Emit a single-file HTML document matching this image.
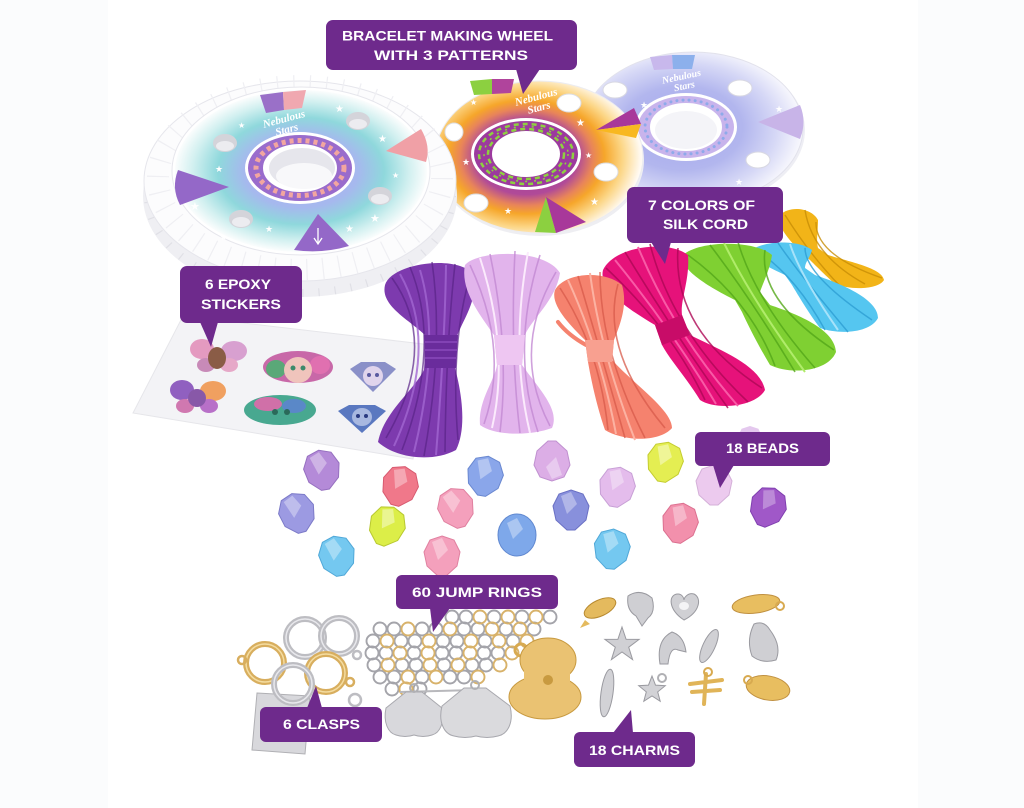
<!DOCTYPE html>
<html><head><meta charset="utf-8">
<style>
html,body{margin:0;padding:0;background:#fff;}
svg{display:block;}
.lb{font-family:"Liberation Sans",sans-serif;font-weight:bold;font-size:14px;fill:#fff;}
.st{font-family:"DejaVu Sans",sans-serif;fill:#fff;}
.logo{font-family:"Liberation Serif",serif;font-style:italic;font-weight:bold;fill:#fff;}
</style></head><body>
<svg width="1024" height="808" viewBox="0 0 1024 808" xmlns="http://www.w3.org/2000/svg">
<defs>
<radialGradient id="gL" cx="0.5" cy="0.5" r="0.5">
<stop offset="0" stop-color="#a8aef0"/><stop offset="0.45" stop-color="#a6b8ee"/><stop offset="0.66" stop-color="#8fd8dc"/><stop offset="0.86" stop-color="#d2f0f0"/><stop offset="1" stop-color="#fbfdfd"/>
</radialGradient>
<radialGradient id="gM" cx="0.44" cy="0.5" r="0.55">
<stop offset="0" stop-color="#9a3aa0"/><stop offset="0.45" stop-color="#b04a98"/><stop offset="0.58" stop-color="#e8845a"/><stop offset="0.68" stop-color="#f6a62a"/><stop offset="0.84" stop-color="#fcd686"/><stop offset="1" stop-color="#fffaf2"/>
</radialGradient>
<radialGradient id="gR" cx="0.45" cy="0.5" r="0.55">
<stop offset="0" stop-color="#a6a8ea"/><stop offset="0.5" stop-color="#b2b6ee"/><stop offset="0.78" stop-color="#d6d8f6"/><stop offset="1" stop-color="#f8f8fd"/>
</radialGradient>
</defs>
<rect width="1024" height="808" fill="#fbfcfd"/>
<rect x="108" y="0" width="810" height="808" fill="#ffffff"/>

<!-- RIGHT WHEEL -->
<ellipse cx="694" cy="130" rx="111" ry="77" fill="#eeeef4"/>
<ellipse cx="693" cy="128" rx="110" ry="76" fill="url(#gR)" stroke="#e2e2ec"/>
<polygon points="650,57 672,55 673,69 654,70" fill="#c8b8ec"/>
<polygon points="672,55 695,55 692,69 673,69" fill="#8cb0ec"/>
<path d="M758,122 L800,105 Q807,122 800,139 Z" fill="#c8b4e8"/>
<ellipse cx="615" cy="90" rx="12" ry="8" fill="#fff" stroke="#d8d8e2"/>
<ellipse cx="740" cy="88" rx="12" ry="8" fill="#fff" stroke="#d8d8e2"/>
<ellipse cx="758" cy="160" rx="12" ry="8" fill="#fff" stroke="#d8d8e2"/>
<ellipse cx="686" cy="127" rx="51" ry="34" fill="#fff"/>
<ellipse cx="686" cy="127" rx="48" ry="31" fill="#c8b4ec"/>
<ellipse cx="686" cy="127" rx="41" ry="27" fill="none" stroke="#8eaaea" stroke-width="3" stroke-linecap="round" stroke-dasharray="0.1 6"/>
<ellipse cx="686" cy="127" rx="35" ry="23" fill="#fff" stroke="#fff" stroke-width="2"/>
<ellipse cx="686" cy="130" rx="31" ry="19" fill="#f4f4f8"/>
<text class="logo" x="662" y="80" font-size="10" transform="rotate(-12 680 78)">Nebulous</text>
<text class="logo" x="672" y="90" font-size="10" transform="rotate(-12 680 78)">Stars</text>
<text class="st" x="640" y="108" font-size="9">★</text><text class="st" x="775" y="112" font-size="9">★</text>
<text class="st" x="735" y="185" font-size="9">★</text><text class="st" x="620" y="150" font-size="8">★</text>

<!-- MIDDLE WHEEL -->
<ellipse cx="540" cy="160" rx="104" ry="76" fill="#eeeef2"/>
<ellipse cx="539" cy="157" rx="104" ry="76" fill="url(#gM)" stroke="#ececf0"/>
<polygon points="470,81 492,79 492,94 474,95" fill="#8cd040"/>
<polygon points="492,79 514,79 511,93 492,94" fill="#b0449c"/>
<polygon points="596,130 634,108 641,124" fill="#a8389a"/>
<polygon points="596,130 641,124 636,138" fill="#f8b820"/>
<polygon points="546,197 535,232 556,233" fill="#8cd040"/>
<polygon points="546,197 556,233 586,222" fill="#a8389a"/>
<ellipse cx="569" cy="103" rx="12" ry="9" fill="#fff" stroke="#dcdce0"/>
<ellipse cx="606" cy="172" rx="12" ry="9" fill="#fff" stroke="#dcdce0"/>
<ellipse cx="476" cy="203" rx="12" ry="9" fill="#fff" stroke="#dcdce0"/>
<ellipse cx="454" cy="132" rx="9" ry="9" fill="#fff" stroke="#dcdce0"/>
<ellipse cx="526" cy="154" rx="55" ry="36" fill="#fff"/>
<ellipse cx="526" cy="154" rx="52" ry="33" fill="#9c3a9e"/>
<ellipse cx="526" cy="154" rx="47" ry="30" fill="none" stroke="#8ed040" stroke-width="2.5" stroke-dasharray="5 4"/>
<ellipse cx="526" cy="154" rx="38" ry="25" fill="none" stroke="#8ed040" stroke-width="2.5" stroke-dasharray="5 4"/>
<ellipse cx="526" cy="154" rx="42" ry="27.5" fill="none" stroke="#8ed040" stroke-width="1.5" stroke-dasharray="2 7"/>
<ellipse cx="526" cy="154" rx="33" ry="22" fill="#fff" stroke="#fff" stroke-width="2"/>
<text class="logo" x="515" y="102" font-size="11" transform="rotate(-15 530 100)">Nebulous</text>
<text class="logo" x="525" y="113" font-size="11" transform="rotate(-15 530 100)">Stars</text>
<text class="st" x="576" y="126" font-size="10">★</text><text class="st" x="462" y="165" font-size="9">★</text>
<text class="st" x="585" y="158" font-size="8">★</text><text class="st" x="504" y="214" font-size="9">★</text>
<text class="st" x="590" y="205" font-size="10">★</text><text class="st" x="470" y="105" font-size="8">★</text>

<!-- LEFT WHEEL (foam) -->
<ellipse cx="300" cy="196" rx="157" ry="101" fill="#efeff3"/>
<ellipse cx="300" cy="196" rx="152" ry="97" fill="none" stroke="#e0e0e6" stroke-width="8" stroke-dasharray="1.2 15"/>
<ellipse cx="300" cy="181" rx="156" ry="100" fill="#fcfcfd" stroke="#e6e6ec" stroke-width="1"/>
<ellipse cx="300" cy="178" rx="142" ry="92" fill="none" stroke="#efeff3" stroke-width="22" stroke-dasharray="1.2 15"/>
<ellipse cx="301" cy="171" rx="129" ry="84" fill="#fff" stroke="#e6e6ec"/>
<ellipse cx="301" cy="171" rx="126" ry="81" fill="url(#gL)"/>
<polygon points="260,95 283,92 284,110 266,113" fill="#9a70c8"/>
<polygon points="283,92 306,90 302,108 284,110" fill="#f0a8b0"/>
<path d="M386,151 L421,129 Q431,146 426,162 Z" fill="#f0a0a6"/>
<path d="M229,187 L178,170 Q171,188 180,205 Z" fill="#9468c8"/>
<path d="M318,214 L294,250 Q322,254 349,246 Z" fill="#9468c8"/>
<path d="M318,228 L318,243 M314,238 L318,244 L322,238" stroke="#fff" stroke-width="1.3" fill="none"/>
<ellipse cx="225" cy="143" rx="12" ry="9" fill="#d4d4da"/><ellipse cx="225" cy="146" rx="9" ry="5" fill="#ececf0"/>
<ellipse cx="358" cy="121" rx="12" ry="9" fill="#d4d4da"/><ellipse cx="358" cy="124" rx="9" ry="5" fill="#ececf0"/>
<ellipse cx="380" cy="196" rx="12" ry="9" fill="#d4d4da"/><ellipse cx="380" cy="199" rx="9" ry="5" fill="#ececf0"/>
<ellipse cx="241" cy="219" rx="12" ry="9" fill="#d4d4da"/><ellipse cx="241" cy="222" rx="9" ry="5" fill="#ececf0"/>
<ellipse cx="300" cy="168" rx="55" ry="36" fill="#fff"/>
<ellipse cx="300" cy="168" rx="52" ry="33" fill="#9a6ccc"/>
<ellipse cx="300" cy="168" rx="44" ry="27.5" fill="none" stroke="#f2a6a0" stroke-width="5" stroke-dasharray="4 4"/>
<ellipse cx="300" cy="168" rx="36" ry="23" fill="#fff" stroke="#fff" stroke-width="2"/>
<ellipse cx="302" cy="168" rx="33" ry="20" fill="#e6e6ec"/>
<ellipse cx="304" cy="176" rx="28" ry="13" fill="#f8f8fa"/>
<text class="logo" x="262" y="122" font-size="11" transform="rotate(-15 285 118)">Nebulous</text>
<text class="logo" x="272" y="133" font-size="11" transform="rotate(-15 285 118)">Stars</text>
<text class="st" x="335" y="112" font-size="10">★</text><text class="st" x="378" y="142" font-size="10">★</text>
<text class="st" x="215" y="172" font-size="9">★</text><text class="st" x="392" y="178" font-size="8">★</text>
<text class="st" x="265" y="232" font-size="9">★</text><text class="st" x="345" y="232" font-size="10">★</text>
<text class="st" x="190" y="210" font-size="11">★</text><text class="st" x="370" y="222" font-size="11">★</text>
<text class="st" x="238" y="128" font-size="8">★</text><text class="st" x="220" y="240" font-size="8">★</text>

<!-- STICKER SHEET -->
<polygon points="183,316 432,345 413,459 133,413" fill="#f3f3f6" stroke="#e6e6ea"/>
<g transform="translate(217,356)">
<ellipse cx="-15" cy="-7" rx="12" ry="10" fill="#e49ac0"/><ellipse cx="17" cy="-5" rx="13" ry="10" fill="#d8a0d0"/>
<ellipse cx="-11" cy="9" rx="9" ry="7" fill="#c88ab8"/><ellipse cx="12" cy="9" rx="9" ry="7" fill="#e6a8c8"/>
<ellipse cx="0" cy="2" rx="9" ry="11" fill="#8a5c46"/></g>
<g transform="translate(298,367)">
<ellipse cx="0" cy="0" rx="35" ry="16" fill="#c868a8"/><ellipse cx="-22" cy="2" rx="10" ry="9" fill="#5aa878"/>
<ellipse cx="22" cy="-2" rx="10" ry="9" fill="#e070b0"/><ellipse cx="0" cy="3" rx="14" ry="13" fill="#f0c4bc"/>
<circle cx="-5" cy="1" r="2.5" fill="#3c8a6a"/><circle cx="5" cy="1" r="2.5" fill="#3c8a6a"/></g>
<g transform="translate(373,377)">
<polygon points="-23,-8 -12,-15 12,-15 23,-8 0,15" fill="#8a90c8"/><ellipse cx="0" cy="-1" rx="10" ry="10" fill="#e0d4ec"/>
<circle cx="-4" cy="-2" r="2" fill="#5a5aa0"/><circle cx="4" cy="-2" r="2" fill="#5a5aa0"/></g>
<g transform="translate(197,397)">
<ellipse cx="-15" cy="-7" rx="12" ry="10" fill="#9060c0"/><ellipse cx="16" cy="-6" rx="13" ry="10" fill="#f0a060"/>
<ellipse cx="-12" cy="9" rx="9" ry="7" fill="#d078b0"/><ellipse cx="12" cy="9" rx="9" ry="7" fill="#b870c8"/>
<ellipse cx="0" cy="1" rx="9" ry="9" fill="#8858a8"/></g>
<g transform="translate(280,410)">
<ellipse cx="0" cy="0" rx="36" ry="15" fill="#48a890"/><ellipse cx="-12" cy="-6" rx="14" ry="7" fill="#d070a8"/>
<ellipse cx="14" cy="-4" rx="12" ry="7" fill="#5a88c8"/><circle cx="-5" cy="2" r="3" fill="#2a6a5a"/><circle cx="7" cy="2" r="3" fill="#2a6a5a"/></g>
<g transform="translate(362,418)">
<polygon points="-24,-7 -13,-13 13,-13 24,-7 0,15" fill="#5a78c0"/><ellipse cx="0" cy="-1" rx="10" ry="9" fill="#a8b8e0"/>
<circle cx="-4" cy="-2" r="2" fill="#2a3a80"/><circle cx="4" cy="-2" r="2" fill="#2a3a80"/></g>

<!-- CORDS -->
<g>
<path d="M385,285 C392,262 462,254 474,276 C478,300 463,320 457,336 L455,368 C463,398 466,430 456,450 C432,463 395,458 378,442 C384,412 414,390 424,370 L426,336 C410,320 380,306 385,285 Z" fill="#7d3aae"/>
<g fill="none" stroke="#5a2488" stroke-width="1.6" opacity="0.7">
<path d="M392,278 Q440,345 386,438"/><path d="M410,267 Q442,345 402,450"/><path d="M432,262 Q444,345 424,456"/><path d="M455,264 Q446,345 445,452"/><path d="M470,276 Q450,345 458,440"/></g>
<g fill="none" stroke="#a266d2" stroke-width="2" opacity="0.8"><path d="M420,270 Q441,340 414,452"/><path d="M446,265 Q445,340 436,455"/><path d="M400,274 Q440,345 394,446"/></g>
<path d="M424,335 L458,335 L456,368 L425,368 Z" fill="#6a2c9c"/>
<g stroke="#8a4abc" stroke-width="1.5"><path d="M425,342 L457,342 M425,350 L457,350 M425,358 L456,358"/></g>
</g>
<g>
<path d="M465,265 C478,250 545,248 560,273 C556,300 531,320 525,335 L522,365 C540,390 560,410 552,428 C530,436 495,436 480,425 C478,400 495,380 497,365 L494,335 C480,315 460,290 465,265 Z" fill="#e2b4ec"/>
<g fill="none" stroke="#c48ad4" stroke-width="1.6" opacity="0.8">
<path d="M470,265 Q510,350 484,424"/><path d="M490,254 Q510,350 500,432"/><path d="M515,251 Q510,350 520,433"/><path d="M540,255 Q510,350 538,432"/><path d="M556,272 Q510,350 550,426"/></g>
<g fill="none" stroke="#fbeafc" stroke-width="2"><path d="M480,258 Q510,350 492,428"/><path d="M528,252 Q510,350 530,433"/></g>
<path d="M494,335 L525,335 L522,365 L497,365 Z" fill="#eec6f2"/>
</g>
<g>
<path d="M780,215 C790,205 812,208 818,220 C818,232 816,240 818,248 L828,255 C850,262 882,268 884,280 C878,290 850,290 835,284 C825,275 815,265 810,260 L800,252 C790,240 775,225 780,215 Z" fill="#f2b418"/>
<g fill="none" stroke="#c88e06" stroke-width="1.4" opacity="0.8"><path d="M785,215 Q810,255 840,286"/><path d="M805,210 Q812,255 865,284"/><path d="M816,222 Q815,255 882,278"/></g>
</g>
<g>
<path d="M752,250 C765,240 800,240 812,250 C810,258 805,262 805,268 L815,275 C845,285 878,300 878,318 C870,333 840,335 820,328 C808,312 798,295 792,285 L785,275 C770,268 748,258 752,250 Z" fill="#55c6f0"/>
<g fill="none" stroke="#2e9fd4" stroke-width="1.5" opacity="0.8"><path d="M756,250 Q795,275 825,330"/><path d="M778,243 Q800,275 848,332"/><path d="M805,248 Q805,275 872,320"/></g>
<g fill="none" stroke="#a6e2fa" stroke-width="2"><path d="M790,244 Q800,275 838,330"/></g>
</g>
<g>
<path d="M683,255 C700,240 755,240 772,255 C770,270 762,285 760,292 L770,305 C800,315 835,330 836,352 C828,372 790,375 770,365 C758,345 748,325 742,312 L735,300 C715,290 678,270 683,255 Z" fill="#7fd032"/>
<g fill="none" stroke="#54a81a" stroke-width="1.6" opacity="0.8"><path d="M688,255 Q750,300 775,366"/><path d="M710,245 Q752,300 795,372"/><path d="M738,242 Q755,300 815,368"/><path d="M765,250 Q758,300 834,350"/></g>
<g fill="none" stroke="#b0ec6a" stroke-width="2"><path d="M724,243 Q752,300 805,372"/></g>
</g>
<g>
<path d="M603,270 C615,245 670,240 688,255 C690,280 680,300 682,315 L690,335 C720,350 760,365 765,390 C755,408 715,410 700,400 C688,380 670,360 662,345 L655,325 C630,310 598,290 603,270 Z" fill="#e6127a"/>
<g fill="none" stroke="#ae0856" stroke-width="1.6" opacity="0.8"><path d="M606,268 Q672,330 705,400"/><path d="M625,252 Q672,330 728,408"/><path d="M650,244 Q672,330 748,402"/><path d="M678,248 Q672,330 762,388"/></g>
<g fill="none" stroke="#f85aa6" stroke-width="2"><path d="M638,247 Q672,330 738,406"/><path d="M615,260 Q672,330 716,404"/></g>
<path d="M655,325 L682,315 L690,335 L662,345 Z" fill="#c80c68"/>
</g>
<g>
<path d="M555,290 C565,272 605,270 622,285 C628,305 620,325 614,340 L612,360 C635,385 672,410 672,428 C660,442 625,442 605,430 C598,410 592,385 588,362 L585,340 C570,325 550,305 555,290 Z" fill="#f5826e"/>
<path d="M586,345 Q568,335 558,322" stroke="#f5826e" stroke-width="4" fill="none" stroke-linecap="round"/>
<g fill="none" stroke="#d85a4a" stroke-width="1.6" opacity="0.75"><path d="M560,288 Q600,350 608,430"/><path d="M578,276 Q600,350 625,438"/><path d="M600,272 Q600,350 645,438"/><path d="M618,284 Q600,350 665,428"/></g>
<g fill="none" stroke="#fcb2a2" stroke-width="2"><path d="M590,273 Q600,350 635,440"/><path d="M568,280 Q600,350 616,434"/></g>
<path d="M585,340 L614,340 L612,362 L588,362 Z" fill="#f8a090"/>
</g>

<!-- BEADS -->
<g stroke-width="1">
<g transform="translate(322,470) rotate(-10)"><path d="M0,-20 L12,-16 L18,-4 L15,10 L4,20 L-4,20 L-15,10 L-18,-4 L-12,-16 Z" fill="#b48ad8" stroke="#9670c0"/><path d="M-10,-14 L0,-18 L6,-6 L-4,4 Z" fill="#fff" opacity="0.35"/></g>
<g transform="translate(400,486) rotate(15)"><path d="M0,-20 L12,-16 L18,-4 L15,10 L4,20 L-4,20 L-15,10 L-18,-4 L-12,-16 Z" fill="#f0788a" stroke="#d85a70"/><path d="M-10,-14 L0,-18 L6,-6 L-4,4 Z" fill="#fff" opacity="0.35"/></g>
<g transform="translate(485,476) rotate(10)"><path d="M0,-20 L12,-16 L18,-4 L15,10 L4,20 L-4,20 L-15,10 L-18,-4 L-12,-16 Z" fill="#8aa6ea" stroke="#6a88d0"/><path d="M-10,-14 L0,-18 L6,-6 L-4,4 Z" fill="#fff" opacity="0.35"/></g>
<g transform="translate(552,461) rotate(180)"><path d="M0,-20 L12,-16 L18,-4 L15,10 L4,20 L-4,20 L-15,10 L-18,-4 L-12,-16 Z" fill="#dcaee6" stroke="#c090d0"/><path d="M-10,-14 L0,-18 L6,-6 L-4,4 Z" fill="#fff" opacity="0.35"/></g>
<g transform="translate(665,462) rotate(10)"><path d="M0,-20 L12,-16 L18,-4 L15,10 L4,20 L-4,20 L-15,10 L-18,-4 L-12,-16 Z" fill="#e4ee52" stroke="#c4cc30"/><path d="M-10,-14 L0,-18 L6,-6 L-4,4 Z" fill="#fff" opacity="0.4"/></g>
<g transform="translate(617,487) rotate(10)"><path d="M0,-20 L12,-16 L18,-4 L15,10 L4,20 L-4,20 L-15,10 L-18,-4 L-12,-16 Z" fill="#e4bcec" stroke="#c8a0d6"/><path d="M-10,-14 L0,-18 L6,-6 L-4,4 Z" fill="#fff" opacity="0.35"/></g>
<g transform="translate(714,485)"><path d="M0,-20 L12,-16 L18,-4 L15,10 L4,20 L-4,20 L-15,10 L-18,-4 L-12,-16 Z" fill="#eccaee" stroke="#d4b0d8"/></g>
<g transform="translate(768,507) rotate(20)"><path d="M0,-20 L12,-16 L18,-4 L15,10 L4,20 L-4,20 L-15,10 L-18,-4 L-12,-16 Z" fill="#a058c8" stroke="#8040b0"/><path d="M-10,-14 L0,-18 L6,-6 L-4,4 Z" fill="#fff" opacity="0.3"/></g>
<g transform="translate(750,440) scale(0.7)"><path d="M0,-20 L12,-16 L18,-4 L15,10 L4,20 L-4,20 L-15,10 L-18,-4 L-12,-16 Z" fill="#e4c8ee"/></g>
<g transform="translate(297,513) rotate(-15)"><path d="M0,-20 L12,-16 L18,-4 L15,10 L4,20 L-4,20 L-15,10 L-18,-4 L-12,-16 Z" fill="#9c9ae2" stroke="#7c7ac8"/><path d="M-10,-14 L0,-18 L6,-6 L-4,4 Z" fill="#fff" opacity="0.35"/></g>
<g transform="translate(456,508) rotate(-15)"><path d="M0,-20 L12,-16 L18,-4 L15,10 L4,20 L-4,20 L-15,10 L-18,-4 L-12,-16 Z" fill="#f4a0bc" stroke="#e080a0"/><path d="M-10,-14 L0,-18 L6,-6 L-4,4 Z" fill="#fff" opacity="0.35"/></g>
<g transform="translate(571,510)"><path d="M0,-20 L12,-16 L18,-4 L15,10 L4,20 L-4,20 L-15,10 L-18,-4 L-12,-16 Z" fill="#8890dc" stroke="#6a70c4"/><path d="M-10,-14 L0,-18 L6,-6 L-4,4 Z" fill="#fff" opacity="0.35"/></g>
<g transform="translate(680,523) rotate(10)"><path d="M0,-20 L12,-16 L18,-4 L15,10 L4,20 L-4,20 L-15,10 L-18,-4 L-12,-16 Z" fill="#f290ac" stroke="#dc7090"/><path d="M-10,-14 L0,-18 L6,-6 L-4,4 Z" fill="#fff" opacity="0.35"/></g>
<g transform="translate(387,526) rotate(20)"><path d="M0,-20 L12,-16 L18,-4 L15,10 L4,20 L-4,20 L-15,10 L-18,-4 L-12,-16 Z" fill="#dcee48" stroke="#b8c830"/><path d="M-10,-14 L0,-18 L6,-6 L-4,4 Z" fill="#fff" opacity="0.4"/></g>
<g transform="translate(517,535)"><ellipse cx="0" cy="0" rx="19" ry="21" fill="#7ea8ea" stroke="#6088d0"/><path d="M-10,-12 L0,-17 L6,-6 L-4,4 Z" fill="#fff" opacity="0.35"/></g>
<g transform="translate(337,556) rotate(-10)"><path d="M0,-20 L12,-16 L18,-4 L15,10 L4,20 L-4,20 L-15,10 L-18,-4 L-12,-16 Z" fill="#74c8f0" stroke="#50a8d8"/><path d="M-10,-14 L0,-18 L6,-6 L-4,4 Z" fill="#fff" opacity="0.35"/></g>
<g transform="translate(442,556)"><path d="M0,-20 L12,-16 L18,-4 L15,10 L4,20 L-4,20 L-15,10 L-18,-4 L-12,-16 Z" fill="#f4a0bc" stroke="#e080a0"/><path d="M-10,-14 L0,-18 L6,-6 L-4,4 Z" fill="#fff" opacity="0.35"/></g>
<g transform="translate(612,549) rotate(5)"><path d="M0,-20 L12,-16 L18,-4 L15,10 L4,20 L-4,20 L-15,10 L-18,-4 L-12,-16 Z" fill="#74c8f0" stroke="#50a8d8"/><path d="M-10,-14 L0,-18 L6,-6 L-4,4 Z" fill="#fff" opacity="0.35"/></g>
</g>

<!-- CLASPS -->
<polygon points="257,693 310,696 305,754 252,750" fill="#d8d8dc" stroke="#b0b0b4"/>
<g fill="none">
<circle cx="305" cy="638" r="19" stroke="#bdbdc2" stroke-width="6"/><circle cx="305" cy="638" r="19" stroke="#e8e8ec" stroke-width="1.5"/>
<circle cx="339" cy="636" r="18" stroke="#bdbdc2" stroke-width="6"/><circle cx="339" cy="636" r="18" stroke="#e8e8ec" stroke-width="1.5"/>
<circle cx="265" cy="663" r="19" stroke="#d8ae5e" stroke-width="6"/><circle cx="265" cy="663" r="19" stroke="#f4dca0" stroke-width="1.5"/>
<circle cx="326" cy="673" r="19" stroke="#d8ae5e" stroke-width="6"/><circle cx="326" cy="673" r="19" stroke="#f4dca0" stroke-width="1.5"/>
<circle cx="293" cy="684" r="19" stroke="#bdbdc2" stroke-width="6"/><circle cx="293" cy="684" r="19" stroke="#e8e8ec" stroke-width="1.5"/>
<circle cx="242" cy="660" r="4" stroke="#d8ae5e" stroke-width="2.5"/><circle cx="350" cy="682" r="4" stroke="#d8ae5e" stroke-width="2.5"/>
<circle cx="357" cy="655" r="4" stroke="#bdbdc2" stroke-width="2.5"/><circle cx="355" cy="700" r="6" stroke="#bdbdc2" stroke-width="2.5"/>
</g>

<!-- JUMP RINGS -->
<g fill="none" stroke-width="1.9">
<g stroke="#a4a4aa">
<circle cx="452" cy="617" r="6.5"/><circle cx="466" cy="617" r="6.5"/><circle cx="494" cy="617" r="6.5"/><circle cx="522" cy="617" r="6.5"/><circle cx="550" cy="617" r="6.5"/>
<circle cx="380" cy="629" r="6.5"/><circle cx="394" cy="629" r="6.5"/><circle cx="422" cy="629" r="6.5"/><circle cx="436" cy="629" r="6.5"/><circle cx="464" cy="629" r="6.5"/><circle cx="478" cy="629" r="6.5"/><circle cx="506" cy="629" r="6.5"/><circle cx="534" cy="629" r="6.5"/>
<circle cx="373" cy="641" r="6.5"/><circle cx="401" cy="641" r="6.5"/><circle cx="415" cy="641" r="6.5"/><circle cx="443" cy="641" r="6.5"/><circle cx="457" cy="641" r="6.5"/><circle cx="485" cy="641" r="6.5"/><circle cx="513" cy="641" r="6.5"/>
<circle cx="372" cy="653" r="6.5"/><circle cx="386" cy="653" r="6.5"/><circle cx="414" cy="653" r="6.5"/><circle cx="442" cy="653" r="6.5"/><circle cx="456" cy="653" r="6.5"/><circle cx="484" cy="653" r="6.5"/><circle cx="498" cy="653" r="6.5"/>
<circle cx="374" cy="665" r="6.5"/><circle cx="402" cy="665" r="6.5"/><circle cx="416" cy="665" r="6.5"/><circle cx="444" cy="665" r="6.5"/><circle cx="472" cy="665" r="6.5"/><circle cx="486" cy="665" r="6.5"/>
<circle cx="380" cy="677" r="6.5"/><circle cx="394" cy="677" r="6.5"/><circle cx="422" cy="677" r="6.5"/><circle cx="450" cy="677" r="6.5"/><circle cx="464" cy="677" r="6.5"/>
<circle cx="392" cy="689" r="6.5"/><circle cx="420" cy="689" r="6.5"/>
</g>
<g stroke="#d8b26a">
<circle cx="480" cy="617" r="6.5"/><circle cx="508" cy="617" r="6.5"/><circle cx="536" cy="617" r="6.5"/>
<circle cx="408" cy="629" r="6.5"/><circle cx="450" cy="629" r="6.5"/><circle cx="492" cy="629" r="6.5"/><circle cx="520" cy="629" r="6.5"/>
<circle cx="387" cy="641" r="6.5"/><circle cx="429" cy="641" r="6.5"/><circle cx="471" cy="641" r="6.5"/><circle cx="499" cy="641" r="6.5"/><circle cx="527" cy="641" r="6.5"/>
<circle cx="400" cy="653" r="6.5"/><circle cx="428" cy="653" r="6.5"/><circle cx="470" cy="653" r="6.5"/><circle cx="512" cy="653" r="6.5"/>
<circle cx="388" cy="665" r="6.5"/><circle cx="430" cy="665" r="6.5"/><circle cx="458" cy="665" r="6.5"/><circle cx="500" cy="665" r="6.5"/>
<circle cx="408" cy="677" r="6.5"/><circle cx="436" cy="677" r="6.5"/><circle cx="478" cy="677" r="6.5"/>
<circle cx="406" cy="689" r="6.5"/>
</g>
</g>

<!-- SHELLS -->
<path d="M400,692 L475,690" stroke="#b8b8bc" stroke-width="2"/>
<path d="M406,692 L422,692 L442,708 C445,722 440,733 432,735 Q423,738 414,735 Q405,738 396,735 C388,733 383,722 386,708 Z" fill="#d8d8dc" stroke="#a8a8ae"/>
<path d="M464,688 L486,688 L510,706 C514,722 508,734 498,736 Q487,739 476,736 Q465,739 454,736 C444,734 438,722 442,706 Z" fill="#dadadd" stroke="#a8a8ae"/>
<circle cx="414" cy="688" r="4" fill="none" stroke="#b0b0b4" stroke-width="2"/><circle cx="475" cy="685" r="4" fill="none" stroke="#b0b0b4" stroke-width="2"/>

<!-- GOLD BUTTERFLY CHARM -->
<circle cx="521" cy="650" r="6" fill="none" stroke="#d8aa50" stroke-width="3"/>
<ellipse cx="548" cy="660" rx="28" ry="22" fill="#eac272" stroke="#c89a40"/>
<ellipse cx="545" cy="697" rx="36" ry="22" fill="#eac272" stroke="#c89a40"/>
<rect x="524" y="660" width="46" height="30" fill="#eac272"/>
<circle cx="548" cy="680" r="5" fill="#c89a40"/>

<!-- SMALL CHARMS -->
<ellipse cx="600" cy="608" rx="17" ry="8" transform="rotate(-25 600 608)" fill="#e4ba5e" stroke="#b88a30"/>
<path d="M585,620 L580,628 L590,624 Z" fill="#e4ba5e"/>
<path d="M628,596 Q640,588 652,598 Q656,612 648,618 L642,626 L636,616 Q626,610 628,596Z" fill="#cfcfd3" stroke="#9a9aa0"/>
<path d="M684,620 C668,610 668,594 678,594 C682,594 684,598 684,600 C684,598 688,592 694,594 C702,598 700,612 684,620Z" fill="#d0d0d4" stroke="#9a9aa0"/>
<ellipse cx="684" cy="606" rx="5" ry="4" fill="#f4f4f6"/>
<ellipse cx="756" cy="604" rx="24" ry="9" transform="rotate(-8 756 604)" fill="#e8be60" stroke="#c09040"/>
<circle cx="780" cy="606" r="4" fill="none" stroke="#d8aa50" stroke-width="2"/>
<polygon points="622,627 626.1,639.3 639.1,639.4 628.7,647.2 632.6,659.6 622,652 611.4,659.6 615.3,647.2 604.9,639.4 617.9,639.3" fill="#d0d0d4" stroke="#9a9aa0"/>
<path d="M660,664 Q656,640 672,632 Q684,636 686,652 L678,650 Q670,646 668,664 Z" fill="#cfcfd3" stroke="#9a9aa0"/>
<ellipse cx="709" cy="646" rx="18" ry="6" transform="rotate(-65 709 646)" fill="#d0d0d4" stroke="#9a9aa0"/>
<path d="M754,624 Q764,620 770,630 Q782,646 776,660 Q762,664 752,656 Q746,640 754,624 Z" fill="#cfcfd3" stroke="#9a9aa0"/>
<ellipse cx="607" cy="693" rx="6" ry="24" transform="rotate(8 607 693)" fill="#d2d2d6" stroke="#9a9aa0"/>
<polygon points="652,676 655.5,685.1 665.3,685.7 657.7,691.9 660.2,701.3 652,696 643.8,701.3 646.3,691.9 638.7,685.7 648.5,685.1" fill="#d2d2d6" stroke="#9a9aa0"/>
<circle cx="662" cy="678" r="4" fill="none" stroke="#b0b0b4" stroke-width="2"/>
<path d="M706,674 L704,704 M690,684 L722,680 M692,692 L720,690" stroke="#e0b458" stroke-width="4" stroke-linecap="round"/>
<circle cx="708" cy="672" r="4" fill="none" stroke="#d8aa50" stroke-width="2"/>
<ellipse cx="768" cy="688" rx="22" ry="12" transform="rotate(10 768 688)" fill="#e8be60" stroke="#c09040"/>
<circle cx="748" cy="680" r="4" fill="none" stroke="#d8aa50" stroke-width="2"/>

<!-- LABELS -->
<g fill="#6e2a8c">
<rect x="326" y="20" width="251" height="50" rx="7"/><polygon points="516,69 540,69 523,94"/>
<rect x="627" y="187" width="156" height="56" rx="7"/><polygon points="651,242 671,242 665,264"/>
<rect x="180" y="266" width="122" height="57" rx="7"/><polygon points="200,322 218,322 211,347"/>
<rect x="695" y="432" width="135" height="34" rx="6"/><polygon points="713,465 734,465 720,488"/>
<rect x="396" y="575" width="162" height="34" rx="6"/><polygon points="430,608 450,608 433,632"/>
<rect x="260" y="707" width="122" height="35" rx="6"/><polygon points="307,708 322,708 316,686"/>
<rect x="574" y="732" width="121" height="35" rx="6"/><polygon points="613,733 633,733 631,710"/>
</g>
<text class="lb" x="342" y="40.5" textLength="211" lengthAdjust="spacingAndGlyphs">BRACELET MAKING WHEEL</text>
<text class="lb" x="374" y="60" textLength="154" lengthAdjust="spacingAndGlyphs">WITH 3 PATTERNS</text>
<text class="lb" x="648" y="210" textLength="107" lengthAdjust="spacingAndGlyphs">7 COLORS OF</text>
<text class="lb" x="663" y="229" textLength="85" lengthAdjust="spacingAndGlyphs">SILK CORD</text>
<text class="lb" x="205" y="289" textLength="66" lengthAdjust="spacingAndGlyphs">6 EPOXY</text>
<text class="lb" x="201" y="309" textLength="80" lengthAdjust="spacingAndGlyphs">STICKERS</text>
<text class="lb" x="726" y="453" textLength="73" lengthAdjust="spacingAndGlyphs">18 BEADS</text>
<text class="lb" x="412" y="597" textLength="130" lengthAdjust="spacingAndGlyphs">60 JUMP RINGS</text>
<text class="lb" x="283" y="729" textLength="77" lengthAdjust="spacingAndGlyphs">6 CLASPS</text>
<text class="lb" x="589" y="755" textLength="91" lengthAdjust="spacingAndGlyphs">18 CHARMS</text>
</svg>
</body></html>
